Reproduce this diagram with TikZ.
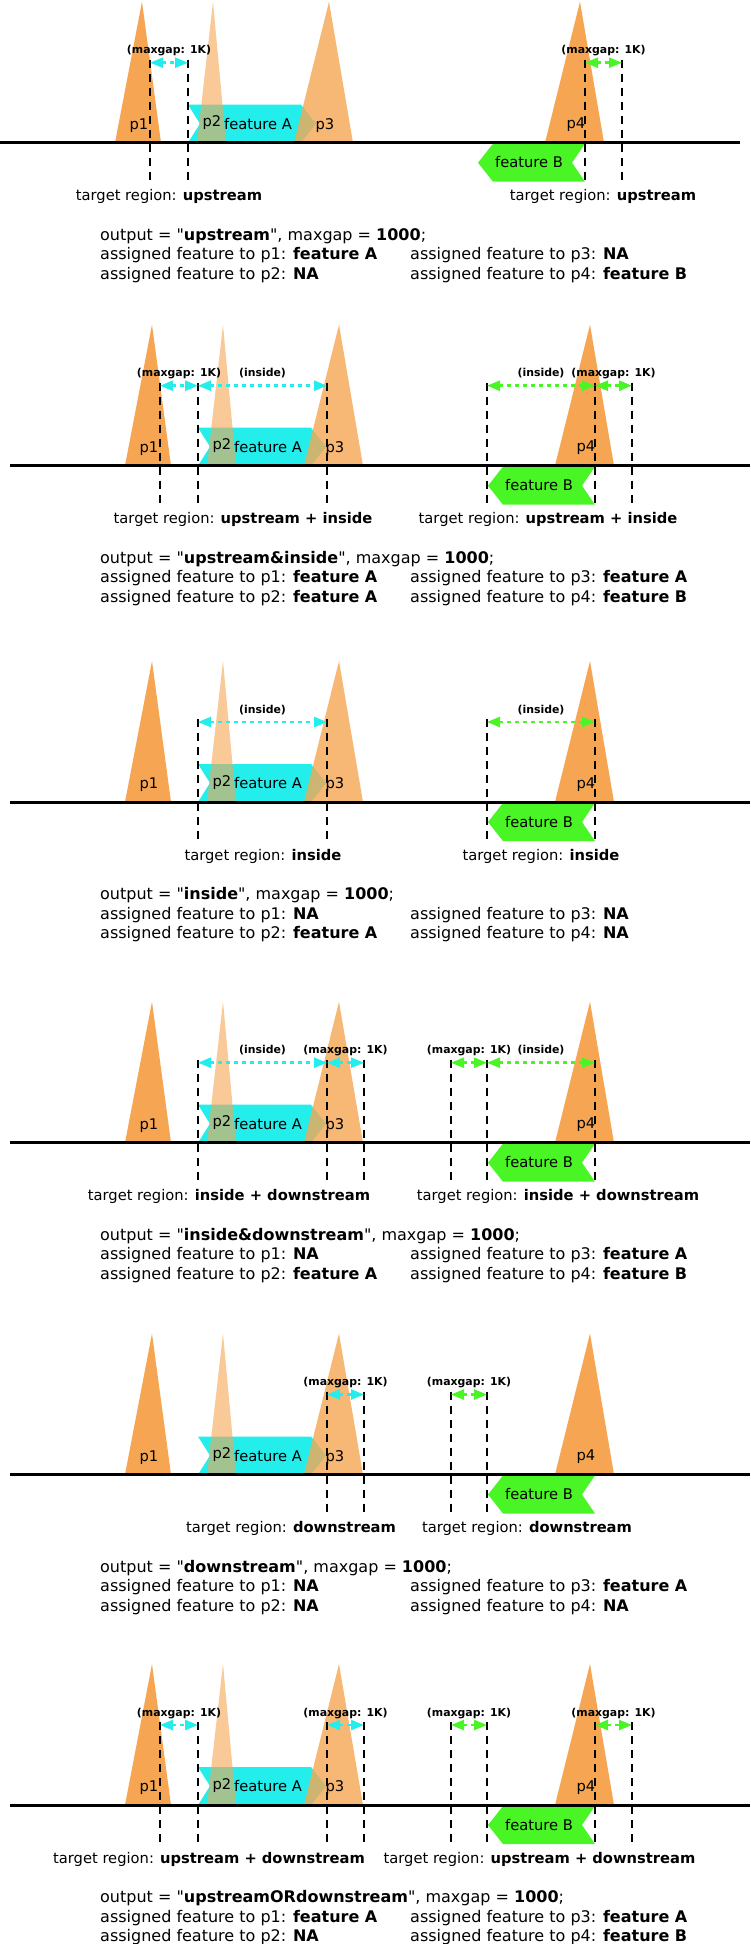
\documentclass[tikz,border=0pt]{standalone}
\usepackage{fontspec}
\setmainfont{DejaVu Sans}[Ligatures=TeXOff]
\usetikzlibrary{arrows.meta}
\definecolor{pk}{RGB}{246,166,83}
\definecolor{fcyan}{RGB}{36,238,236}
\definecolor{fgreen}{RGB}{74,245,38}
\tikzset{
 pkfull/.style={fill=pk},
 pkfaint/.style={fill=pk, fill opacity=0.6},
 pkmid/.style={fill=pk, fill opacity=0.8},
 featA/.style={fill=fcyan},
 featB/.style={fill=fgreen},
 axisline/.style={line width=3pt},
 guide/.style={line width=2.5pt, dash pattern=on 8pt off 6pt},
 gapA/.style={draw=fcyan, line width=2.5pt, dash pattern=on 4pt off 4pt, {Triangle[length=13pt,width=10pt]}-{Triangle[length=13pt,width=10pt]}},
 gapB/.style={gapA, draw=fgreen},
 plab/.style={font=\fontsize{14.7}{16}\selectfont, anchor=base, inner sep=0pt},
 glab/.style={font=\bfseries\fontsize{10.9}{12}\selectfont, anchor=base, inner sep=0pt},
 tlab/.style={font=\fontsize{14.7}{16}\selectfont, anchor=base, inner sep=0pt},
 olab/.style={font=\fontsize{16}{19}\selectfont, anchor=base west, inner sep=0pt},
}
\newcommand\basepanel{%
 \fill[featA] (198,-38) -- (311,-38) -- (326,-19) -- (311,0) -- (198,0) -- (210,-19) -- cycle;
 \fill[featB] (595,1) -- (503,1) -- (488,20) -- (503,39) -- (595,39) -- (582,20) -- cycle;
 \fill[pkfull] (125,0) -- (152,-141) -- (171,0) -- cycle;
 \fill[pkfaint] (207,0) -- (223,-141) -- (236,0) -- cycle;
 \fill[pkmid] (304,0) -- (339,-141) -- (363,0) -- cycle;
 \fill[pkfull] (555,0) -- (590,-141) -- (614,0) -- cycle;
 \coordinate (axl) at (10,0);
 \coordinate (axr) at (750,0);
 \draw[axisline] (axl) -- (axr);
 \node[plab] (p1) at (149,-13.5) {p1};
 \node[plab] (p2) at (222,-16) {p2};
 \node[plab] (p3) at (335,-13.5) {p3};
 \node[plab] (p4) at (586,-14) {p4};
 \node[plab] (fa) at (268,-13.5) {feature A};
 \node[plab] (fb) at (539,25) {feature B};
}
\newcommand\guideline[2]{%
 \coordinate (#1t) at (#2,-83);
 \coordinate (#1b) at (#2,40);
 \draw[guide] (#1t) -- (#1b);
}
\newcommand\gaparrow[5]{%
 \coordinate (#2l) at (#3,-80);
 \coordinate (#2r) at (#4,-80);
 \draw[#1] (#2l) -- (#2r) node[glab, midway, yshift=9pt] (#2lab) {#5};
}
\newcommand\outtext[5]{%
 \node[olab] (out) at (100,97.5) {output = "\textbf{#1}", maxgap = \textbf{1000};};
 \node[olab] (a1) at (100,117.2) {assigned feature to p1: \textbf{#2}};
 \node[olab] (a2) at (100,136.9) {assigned feature to p2: \textbf{#3}};
 \node[olab] (a3) at (410,117.2) {assigned feature to p3: \textbf{#4}};
 \node[olab] (a4) at (410,136.9) {assigned feature to p4: \textbf{#5}};
}
\begin{document}
\begin{tikzpicture}[x=1pt,y=-1pt]
\useasboundingbox (0,0) rectangle (750,1944);
\fill[white] (0,0) rectangle (750,1944);
% ---------- panel 1
\begin{scope}[shift={(-10,142.7)}, name prefix=pa-]
 \basepanel
 \guideline{g1}{160}\guideline{g2}{198}\guideline{g3}{595}\guideline{g4}{632}
 \gaparrow{gapA}{ga}{160}{198}{(maxgap: 1K)}
 \gaparrow{gapB}{gb}{595}{632}{(maxgap: 1K)}
 \node[tlab] (tl) at (179,58) {target region: \textbf{upstream}};
 \node[tlab] (tr) at (613,58) {target region: \textbf{upstream}};
\end{scope}
\begin{scope}[shift={(0,142.7)}, name prefix=pa-]
 \outtext{upstream}{feature A}{NA}{NA}{feature B}
\end{scope}
% ---------- panel 2
\begin{scope}[shift={(0,465.7)}, name prefix=pb-]
 \basepanel
 \guideline{g1}{160}\guideline{g2}{198}\guideline{g3}{327}
 \guideline{g4}{487}\guideline{g5}{595}\guideline{g6}{632}
 \gaparrow{gapA}{ga}{160}{198}{(maxgap: 1K)}
 \gaparrow{gapA}{gc}{198}{327}{(inside)}
 \gaparrow{gapB}{gb}{487}{595}{(inside)}
 \gaparrow{gapB}{gd}{595}{632}{(maxgap: 1K)}
 \node[tlab] (tl) at (243,58) {target region: \textbf{upstream + inside}};
 \node[tlab] (tr) at (548,58) {target region: \textbf{upstream + inside}};
 \outtext{upstream\&inside}{feature A}{feature A}{feature A}{feature B}
\end{scope}
% ---------- panel 3
\begin{scope}[shift={(0,802)}, name prefix=pc-]
 \basepanel
 \guideline{g2}{198}\guideline{g3}{327}
 \guideline{g4}{487}\guideline{g5}{595}
 \gaparrow{gapA}{gc}{198}{327}{(inside)}
 \gaparrow{gapB}{gb}{487}{595}{(inside)}
 \node[tlab] (tl) at (263,58) {target region: \textbf{inside}};
 \node[tlab] (tr) at (541,58) {target region: \textbf{inside}};
 \outtext{inside}{NA}{feature A}{NA}{NA}
\end{scope}
% ---------- panel 4
\begin{scope}[shift={(0,1142.7)}, name prefix=pd-]
 \basepanel
 \guideline{g2}{198}\guideline{g3}{327}\guideline{g7}{364}
 \guideline{g8}{451}\guideline{g4}{487}\guideline{g5}{595}
 \gaparrow{gapA}{gc}{198}{327}{(inside)}
 \gaparrow{gapA}{ge}{327}{364}{(maxgap: 1K)}
 \gaparrow{gapB}{gf}{451}{487}{(maxgap: 1K)}
 \gaparrow{gapB}{gb}{487}{595}{(inside)}
 \node[tlab] (tl) at (229,58) {target region: \textbf{inside + downstream}};
 \node[tlab] (tr) at (558,58) {target region: \textbf{inside + downstream}};
 \outtext{inside\&downstream}{NA}{feature A}{feature A}{feature B}
\end{scope}
% ---------- panel 5
\begin{scope}[shift={(0,1474.5)}, name prefix=pe-]
 \basepanel
 \guideline{g3}{327}\guideline{g7}{364}
 \guideline{g8}{451}\guideline{g4}{487}
 \gaparrow{gapA}{ge}{327}{364}{(maxgap: 1K)}
 \gaparrow{gapB}{gf}{451}{487}{(maxgap: 1K)}
 \node[tlab] (tl) at (291,58) {target region: \textbf{downstream}};
 \node[tlab] (tr) at (527,58) {target region: \textbf{downstream}};
 \outtext{downstream}{NA}{NA}{feature A}{NA}
\end{scope}
% ---------- panel 6
\begin{scope}[shift={(0,1805)}, name prefix=pf-]
 \basepanel
 \guideline{g1}{160}\guideline{g2}{198}\guideline{g3}{327}\guideline{g7}{364}
 \guideline{g8}{451}\guideline{g4}{487}\guideline{g5}{595}\guideline{g6}{632}
 \gaparrow{gapA}{ga}{160}{198}{(maxgap: 1K)}
 \gaparrow{gapA}{ge}{327}{364}{(maxgap: 1K)}
 \gaparrow{gapB}{gf}{451}{487}{(maxgap: 1K)}
 \gaparrow{gapB}{gd}{595}{632}{(maxgap: 1K)}
 \node[tlab] (tl) at (209,58) {target region: \textbf{upstream + downstream}};
 \node[tlab] (tr) at (539.5,58) {target region: \textbf{upstream + downstream}};
 \outtext{upstreamORdownstream}{feature A}{NA}{feature A}{feature B}
\end{scope}
\end{tikzpicture}
\end{document}
